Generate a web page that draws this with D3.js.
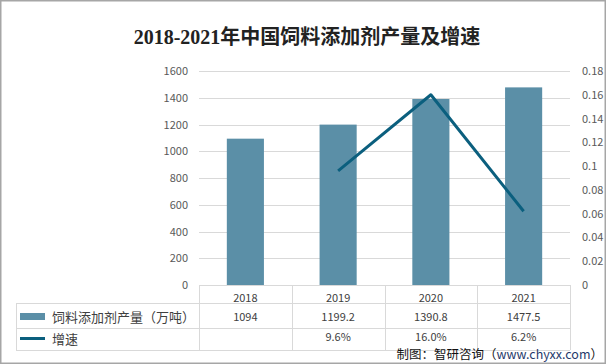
<!DOCTYPE html>
<html><head><meta charset="utf-8">
<script src="https://cdn.jsdelivr.net/npm/d3@7/dist/d3.min.js"></script>
<style>html,body{margin:0;padding:0;background:#fff;}svg{display:block;}</style>
</head><body>
<script>
const years = ["2018", "2019", "2020", "2021"];
const output = [1094, 1199.2, 1390.8, 1477.5];
const growth = [null, 0.096, 0.160, 0.062];
const growthLabels = ["", "9.6%", "16.0%", "6.2%"];
const leftTicks = [0, 200, 400, 600, 800, 1000, 1200, 1400, 1600];
const rightTicks = [0, 0.02, 0.04, 0.06, 0.08, 0.1, 0.12, 0.14, 0.16, 0.18];
const seriesNames = ["饲料添加剂产量（万吨）", "增速"];
const title = "2018-2021年中国饲料添加剂产量及增速";

const W = 606, H = 364;
const svg = d3.select("body").append("svg").attr("width", W).attr("height", H);
svg.append("rect").attr("width", W).attr("height", H).attr("fill", "#fff");

const L = 199, R = 570, T = 71, B = 285;
const x = d3.scaleBand().domain(years).range([L, R]);
const yL = d3.scaleLinear().domain([0, 1600]).range([B, T]);
const yR = d3.scaleLinear().domain([0, 0.18]).range([B, T]);
const barColor = "#5b8fa7", lineColor = "#0b5f7e", grid = "#d9d9d9";
const sans = "'Microsoft YaHei','Noto Sans CJK SC','Liberation Sans',sans-serif";

// title
svg.append("text").attr("x", 307).attr("y", 44).attr("text-anchor", "middle")
  .attr("font-family", "'Liberation Serif','Noto Sans CJK SC',serif").attr("font-weight", "bold")
  .attr("font-size", 20).attr("fill", "#222").text(title);

// gridlines
svg.append("g").selectAll("line").data(leftTicks).join("line")
  .attr("x1", L).attr("x2", R).attr("y1", d => Math.round(yL(d)) + 0.5).attr("y2", d => Math.round(yL(d)) + 0.5)
  .attr("stroke", grid).attr("stroke-width", 1);

// left axis
const gl = svg.append("g").attr("transform", `translate(${L - 11},0)`)
  .call(d3.axisLeft(yL).tickValues(leftTicks).tickSize(0).tickPadding(0).tickFormat(d3.format("d")));
gl.select(".domain").remove();
gl.selectAll("text").attr("font-family", sans).attr("font-size", 11).attr("fill", "#595959");

// right axis
const gr = svg.append("g").attr("transform", `translate(${R + 12},0)`)
  .call(d3.axisRight(yR).tickValues(rightTicks).tickSize(0).tickPadding(0).tickFormat(d => String(+d.toFixed(2))));
gr.select(".domain").remove();
gr.selectAll("text").attr("font-family", sans).attr("font-size", 11).attr("fill", "#595959");

// bars
const bw = x.bandwidth() * 0.4;
svg.append("g").selectAll("rect").data(years).join("rect")
  .attr("x", (d) => x(d) + x.bandwidth() / 2 - bw / 2)
  .attr("width", bw)
  .attr("y", (d, i) => yL(output[i]))
  .attr("height", (d, i) => B - yL(output[i]))
  .attr("fill", barColor);

// line
const pts = years.map((d, i) => [x(d) + x.bandwidth() / 2, growth[i]]).filter(p => p[1] != null);
svg.append("path").datum(pts)
  .attr("d", d3.line().x(p => p[0]).y(p => yR(p[1])))
  .attr("fill", "none").attr("stroke", lineColor).attr("stroke-width", 3).attr("stroke-linejoin", "round");

// data table
const tbl = svg.append("g").attr("stroke", grid).attr("stroke-width", 1);
tbl.append("line").attr("x1", L).attr("x2", R).attr("y1", B + 0.5).attr("y2", B + 0.5);
[303, 328, 350].forEach(yy => tbl.append("line").attr("x1", 16).attr("x2", R).attr("y1", yy + 0.5).attr("y2", yy + 0.5));
const vx = years.map(d => x(d)).concat([R]);
vx.forEach(xx => tbl.append("line").attr("x1", Math.round(xx) + 0.5).attr("x2", Math.round(xx) + 0.5).attr("y1", B).attr("y2", 350));
tbl.append("line").attr("x1", 16.5).attr("x2", 16.5).attr("y1", 303).attr("y2", 350);

const cellText = (txt, cx, cy) => svg.append("text").attr("x", cx).attr("y", cy).attr("text-anchor", "middle")
  .attr("dominant-baseline", "central").attr("font-family", sans).attr("font-size", 11).attr("fill", "#404040").text(txt);
years.forEach((d, i) => {
  const cx = x(d) + x.bandwidth() / 2;
  cellText(d, cx, 297);
  cellText(String(output[i]), cx, 316);
  cellText(growthLabels[i], cx, 336);
});

// legend in table
svg.append("rect").attr("x", 20).attr("y", 313).attr("width", 25).attr("height", 7).attr("fill", barColor);
svg.append("line").attr("x1", 20).attr("x2", 45).attr("y1", 338.5).attr("y2", 338.5).attr("stroke", lineColor).attr("stroke-width", 3);
svg.append("text").attr("x", 52).attr("y", 316).attr("dominant-baseline", "central")
  .attr("font-family", sans).attr("font-size", 13).attr("fill", "#404040").text(seriesNames[0]);
svg.append("text").attr("x", 52).attr("y", 338).attr("dominant-baseline", "central")
  .attr("font-family", sans).attr("font-size", 13).attr("fill", "#404040").text(seriesNames[1]);

// source
const src = svg.append("text").attr("x", 603).attr("y", 359).attr("text-anchor", "end")
  .attr("font-family", sans).attr("font-size", 12.5).attr("fill", "#111");
src.append("tspan").text("制图：智研咨询（");
src.append("tspan").attr("fill", "#1f3a6b").text("www.chyxx.com");
src.append("tspan").text("）");

// border
svg.append("rect").attr("x", 0.75).attr("y", 0.75).attr("width", W - 1.5).attr("height", H - 1.5)
  .attr("fill", "none").attr("stroke", "#a6a6a6").attr("stroke-width", 1.5);
</script>
</body></html>
